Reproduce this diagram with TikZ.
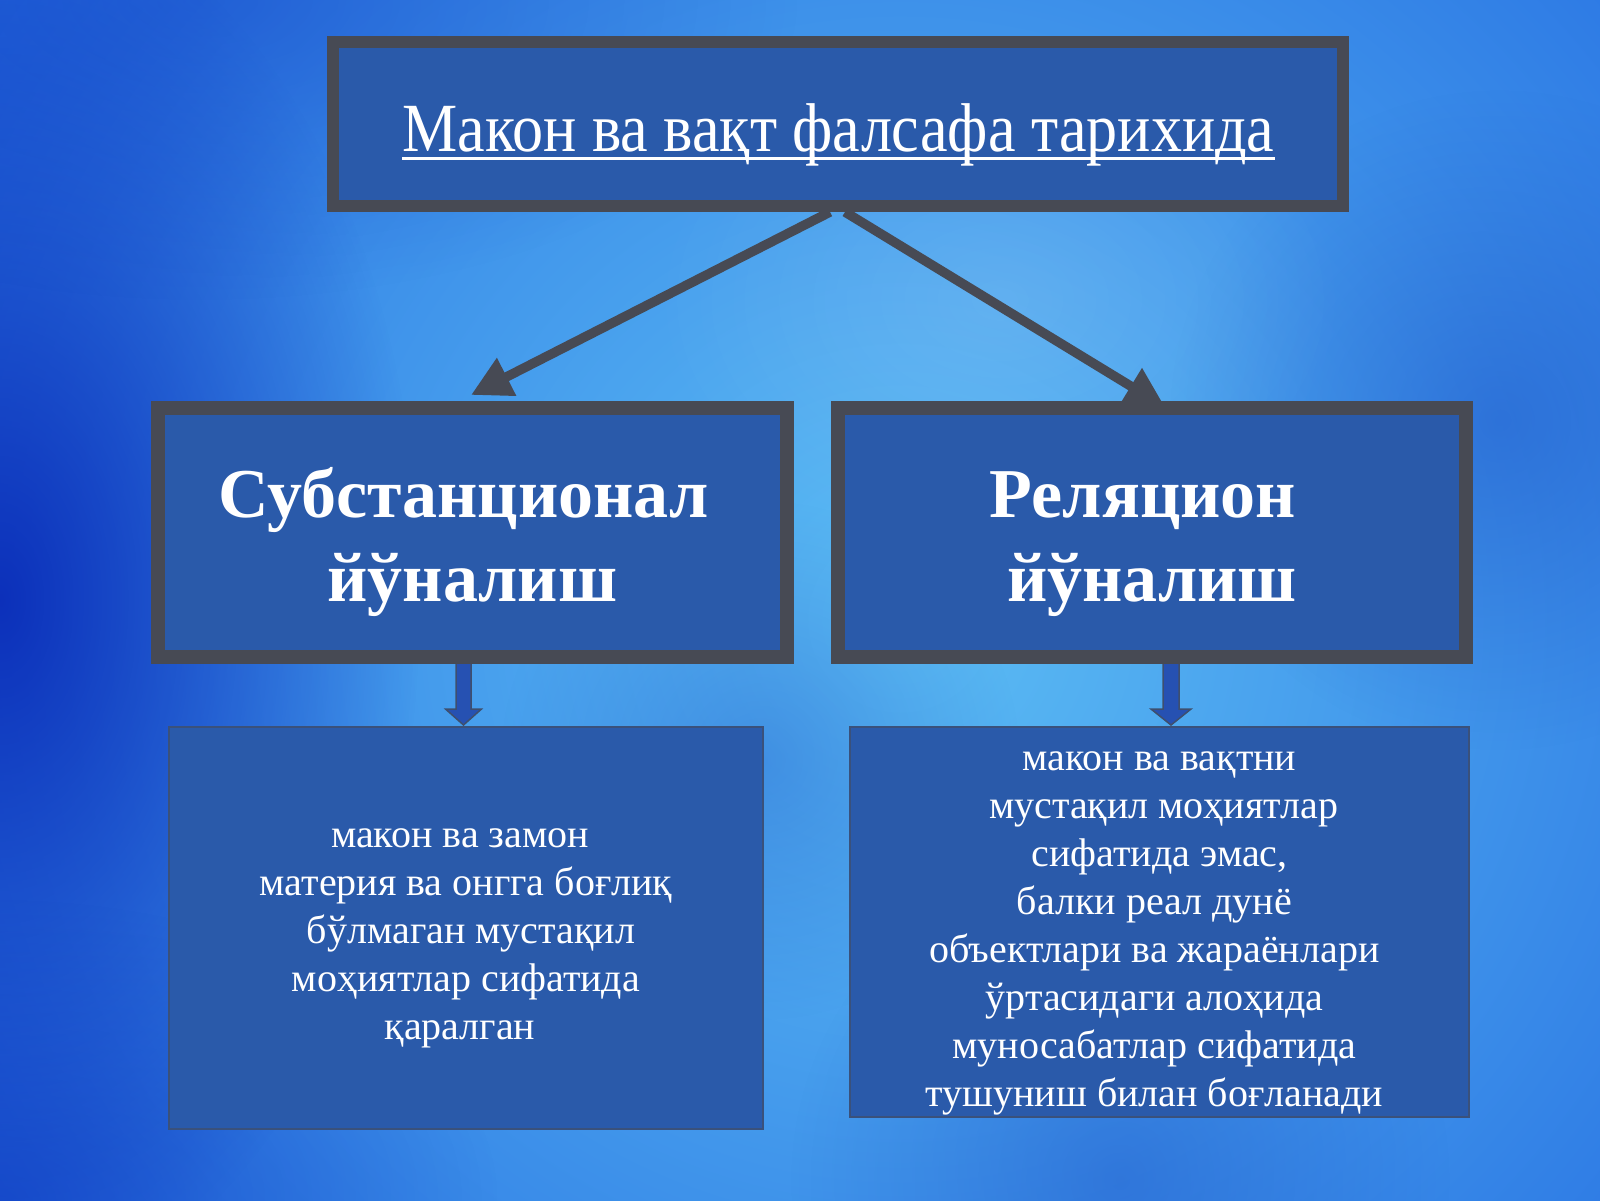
\documentclass[tikz,border=0pt]{standalone}
\usepackage{fontspec}
\setmainfont{Liberation Serif}
\newfontfamily\titlefont[FakeStretch=0.9]{Liberation Serif}
\usetikzlibrary{arrows.meta,fadings}
\definecolor{boxfill}{HTML}{2A5AAA}
\definecolor{boxline}{HTML}{474A54}
\definecolor{bgdark}{HTML}{0A2CB8}
\definecolor{bgouter}{HTML}{1A5EDE}
\definecolor{bglight}{HTML}{5CBDF4}
\definecolor{dialblue}{HTML}{1E54C8}
\tikzfading[name=fadeout radial, inner color=transparent!0, outer color=transparent!100]
\newcommand{\shiftedlines}[2]{\raisebox{-#1}[\height][\depth]{\begin{tabular}{@{}c@{}}#2\end{tabular}}}
\begin{document}
\begin{tikzpicture}[x=1pt,y=-1pt,
  topbox/.style={draw=boxline, line width=12pt, fill=boxfill, minimum width=1010pt, minimum height=164pt, inner sep=0pt},
  titletext/.style={text=white, inner sep=0pt, font=\titlefont\fontsize{69}{80}\selectfont},
  midbox/.style={draw=boxline, line width=14pt, fill=boxfill, text=white, inner sep=0pt,
     font=\fontsize{70}{84}\selectfont\bfseries},
  lowbox/.style={draw=boxline!55!boxfill, line width=1.5pt, fill=boxfill, text=white, inner sep=0pt,
     font=\fontsize{40}{48}\selectfont},
  bigarrow/.style={draw=boxline, line width=9.5pt, -{Triangle[length=40pt,width=40pt]}},
  downarrow/.style={draw=boxline!70!boxfill, line width=1.5pt, fill=boxfill!90!blue, line join=miter}
]
\useasboundingbox (0,0) rectangle (1600,1200);
% background
\begin{scope}
\clip (0,0) rectangle (1600,1200);
\fill[bgouter] (0,0) rectangle (1600,1200);
\shade[inner color=bglight, outer color=bgouter] (900,620) circle (1350);
\fill[dialblue, opacity=0.5, path fading=fadeout radial] (1500,420) circle (330);
\fill[dialblue, opacity=0.45, path fading=fadeout radial] (1120,1180) circle (330);
\fill[dialblue, opacity=0.35, path fading=fadeout radial] (760,760) circle (260);
\fill[bgdark, opacity=0.95, path fading=fadeout radial] (0,600) ellipse (420 and 700);
\fill[bgdark, opacity=0.5, path fading=fadeout radial] (0,1200) ellipse (500 and 300);
\fill[bgdark, opacity=0.35, path fading=fadeout radial] (200,0) ellipse (600 and 300);
\fill[white, opacity=0.12, path fading=fadeout radial] (1000,300) ellipse (350 and 250);
\end{scope}
% connector end points
\coordinate (tipL) at (471,395);
\coordinate (tipR) at (1165,407);
\node[topbox] (top) at (838,124) {};
% arrows (behind the boxes)
\draw[bigarrow] ([xshift=-8pt]top.south) -- (tipL);
\draw[bigarrow] ([xshift=7pt]top.south) -- (tipR);
% down block arrows
\draw[downarrow] (456,662) -- (471,662) -- (471,709) -- (481.5,709) -- (463.5,725) -- (445.5,709) -- (456,709) -- cycle;
\draw[downarrow] (1163,662) -- (1179,662) -- (1179,709) -- (1191,709) -- (1171,725) -- (1151,709) -- (1163,709) -- cycle;
% top box over the arrow starts
\node[topbox] at (838,124) {};
\node[titletext, anchor=base] (title) at (838.5,151) {Макон ва вақт фалсафа тарихида};
\draw[white, line width=3pt] ([yshift=-7pt]title.base west) -- ([yshift=-7pt]title.base east);
\node[midbox, minimum width=629pt, minimum height=249pt] (subst) at (472.5,532.5)
  {\shiftedlines{10pt}{Субстанционал\kern18pt\\йўналиш}};
\node[midbox, minimum width=628pt, minimum height=249pt] (relat) at (1152,532.5)
  {\shiftedlines{10pt}{Реляцион\kern18pt\\йўналиш}};
\node[lowbox, minimum width=594pt, minimum height=402pt] (lowL) at (466,928)
 {\shiftedlines{6pt}{макон ва замон\kern12pt\\материя ва онгга боғлиқ\\\kern10pt бўлмаган мустақил\\моҳиятлар сифатида\\қаралган\kern12pt}};
\node[lowbox, minimum width=619pt, minimum height=390pt] (lowR) at (1159.5,922)
 {\shiftedlines{7pt}{макон ва вақтни\\\kern8pt мустақил моҳиятлар\\сифатида эмас,\\балки реал дунё\kern10pt\\объектлари ва жараёнлари\kern10pt\\ўртасидаги алоҳида\kern10pt\\муносабатлар сифатида\kern10pt\\тушуниш билан боғланади\kern10pt}};
\end{tikzpicture}
\end{document}
